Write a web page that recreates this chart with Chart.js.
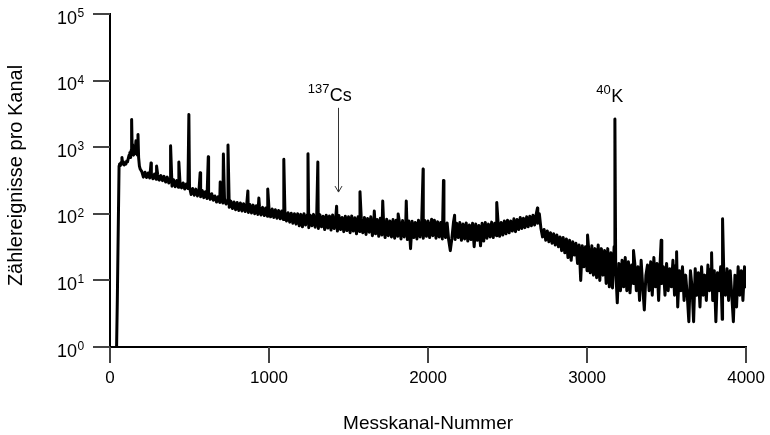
<!DOCTYPE html>
<html>
<head>
<meta charset="utf-8">
<script src="https://cdn.jsdelivr.net/npm/chart.js@4.4.0/dist/chart.umd.min.js"></script>
<style>
html,body{margin:0;padding:0;background:#fff;}
#wrap{width:770px;height:435px;position:relative;}
</style>
</head>
<body>
<div id="wrap"><canvas id="c" width="770" height="435"></canvas></div>
<script>
// ---------- data ----------
const xTickValues = [0, 1000, 2000, 3000, 4000];
const xTickLabels = ['0', '1000', '2000', '3000', '4000'];
const yTickValues = [1, 10, 100, 1000, 10000, 100000];
const yTickExponents = ['0', '1', '2', '3', '4', '5'];

// low-energy onset region (channel, counts)
const onsetChannels = [40, 46, 57, 60, 65, 70, 75, 80, 85, 90, 95, 100, 105, 110, 115, 120, 125, 130, 133, 136, 139, 142, 148, 152, 157, 163, 168, 172, 176, 180, 185];
const onsetCounts = [0.6, 5, 520, 560, 530, 590, 700, 560, 600, 540, 580, 560, 620, 600, 680, 760, 830, 700, 900, 2600, 1100, 850, 760, 1000, 800, 1250, 820, 760, 1550, 700, 520];

// continuum, every 10th channel from channel 190 to 4000
const gridStartChannel = 190;
const gridChannelStep = 10;
const gridCounts = [
  470, 430, 355, 420, 350, 410, 345, 400, 335, 395,
  330, 385, 320, 375, 315, 365, 300, 355, 290, 340,
  260, 325, 255, 315, 250, 300, 245, 290, 235, 280,
  240, 250, 195, 240, 190, 235, 185, 230, 180, 225,
  175, 215, 170, 210, 165, 200, 160, 185, 150, 180,
  148, 175, 145, 170, 140, 160, 125, 155, 120, 150,
  115, 148, 112, 145, 110, 142, 108, 140, 105, 138,
  103, 135, 100, 132, 98, 128, 96, 125, 94, 122,
  92, 120, 90, 118, 88, 115, 86, 112, 84, 110,
  82, 106, 78, 104, 75, 102, 72, 100, 70, 100,
  66, 98, 64, 100, 68, 96, 62, 95, 66, 98,
  63, 94, 60, 97, 64, 92, 58, 95, 61, 93,
  57, 96, 60, 90, 55, 94, 58, 88, 54, 92,
  56, 90, 52, 93, 55, 87, 50, 90, 54, 86,
  52, 88, 49, 85, 53, 90, 47, 84, 50, 82,
  46, 86, 48, 80, 44, 83, 47, 78, 45, 82,
  43, 80, 46, 76, 42, 79, 45, 75, 41, 78,
  30, 77, 44, 74, 42, 80, 45, 76, 43, 79,
  46, 78, 44, 75, 47, 80, 43, 76, 45, 74,
  42, 77, 44, 73, 40, 28, 43, 75, 41, 72,
  44, 74, 40, 70, 42, 73, 39, 68, 41, 72,
  32, 70, 40, 67, 33, 72, 39, 74, 43, 70,
  45, 75, 44, 72, 47, 77, 46, 74, 48, 78,
  50, 80, 52, 78, 55, 84, 54, 82, 58, 88,
  60, 86, 62, 90, 64, 92, 66, 95, 68, 98,
  72, 100, 60, 45, 58, 40, 55, 38, 52, 36,
  50, 34, 48, 32, 45, 28, 44, 26, 42, 22,
  40, 20, 38, 24, 36, 18, 34, 10, 33, 16,
  32, 14, 30, 13, 33, 12, 30, 11, 34, 10,
  30, 12, 28, 9, 30, 8, 26, 7.7, 32, 15,
  4.6, 18, 7, 20, 8, 22, 7, 19, 6.5, 17,
  9, 18, 7, 16, 5, 20, 8, 3.6, 12, 17,
  7, 19, 6, 22, 8, 18, 5, 20, 9, 16,
  6, 18, 7, 15, 8, 20, 6, 17, 4, 14,
  7, 16, 5, 12, 6, 2.4, 14, 8, 2.4, 15,
  6, 13, 4, 16, 6, 12, 5, 17, 7, 15,
  5, 14, 2.4, 13, 7, 16, 2.6, 12, 6, 15,
  5, 14, 6, 2.4, 12, 4, 16, 6, 14, 5,
  16, 8
];

// photo peaks (channel, counts at peak top)
const peakChannels = [258, 293, 381, 433, 496, 567, 618, 693, 713, 742, 867, 936, 992, 1093, 1245, 1307, 1425, 1572, 1662, 1715, 1812, 1863, 1969, 2022, 2097, 2167, 2432, 2688, 3003, 3175, 3292, 3466, 3563, 3783, 3852];
const peakCounts = [580, 520, 1050, 600, 3100, 415, 720, 300, 790, 1080, 220, 172, 235, 660, 800, 600, 130, 215, 110, 155, 99, 155, 470, 83, 315, 95, 148, 122, 48, 2640, 28, 40, 27, 26, 84];

// nuclide labels (anchored in data coordinates)
const nuclideLabels = [
  { mass: '137', symbol: 'Cs', channel: 1243, count: 4900, arrow: { channel: 1432, from: 3900, to: 212 } },
  { mass: '40', symbol: 'K', channel: 3058, count: 4770 }
];

// ---------- build points ----------
const points = [];
onsetChannels.forEach((c, i) => points.push({ x: c, y: onsetCounts[i] }));
gridCounts.forEach((v, i) => points.push({ x: gridStartChannel + i * gridChannelStep, y: v }));
peakChannels.forEach((c, i) => points.push({ x: c, y: peakCounts[i] }));
points.sort((a, b) => a.x - b.x);

const FONT = '"Liberation Sans", Arial, Helvetica, sans-serif';
Chart.defaults.font.family = FONT;
Chart.defaults.color = '#000';

const Y_TICK_LEN = 17;
const X_TICK_LEN = 16;

const overlay = {
  id: 'overlay',
  afterDraw(chart) {
    const { ctx, chartArea, scales: { x, y } } = chart;
    ctx.save();
    // tick marks
    ctx.fillStyle = '#444';
    yTickValues.forEach((v) => {
      const py = Math.round(y.getPixelForValue(v));
      ctx.fillRect(chartArea.left - Y_TICK_LEN, py - 1, Y_TICK_LEN, 2);
    });
    xTickValues.forEach((v) => {
      const px = Math.round(x.getPixelForValue(v));
      ctx.fillRect(px - 1, chartArea.bottom, 2, X_TICK_LEN);
    });

    ctx.fillStyle = '#000';
    // y tick labels with superscript exponents
    const labelRight = chartArea.left - 33;
    yTickValues.forEach((v, idx) => {
      const py = y.getPixelForValue(v);
      ctx.font = '18px ' + FONT;
      ctx.textAlign = 'right';
      ctx.textBaseline = 'alphabetic';
      ctx.fillText('10', labelRight, py + 9.5);
      ctx.font = '12px ' + FONT;
      ctx.textAlign = 'left';
      ctx.fillText(yTickExponents[idx], labelRight + 0.5, py + 3);
    });
    // y axis title
    ctx.save();
    ctx.translate(16, (chartArea.top + chartArea.bottom) / 2 - 5);
    ctx.rotate(-Math.PI / 2);
    ctx.font = '20px ' + FONT;
    ctx.textAlign = 'center';
    ctx.textBaseline = 'middle';
    ctx.fillText('Zählereignisse pro Kanal', 0, 0);
    ctx.restore();
    // nuclide labels
    nuclideLabels.forEach((n) => {
      const px = x.getPixelForValue(n.channel);
      const py = y.getPixelForValue(n.count);
      ctx.textAlign = 'left';
      ctx.textBaseline = 'alphabetic';
      ctx.font = '13px ' + FONT;
      ctx.fillText(n.mass, px, py - 8);
      const w = ctx.measureText(n.mass).width;
      ctx.font = '18px ' + FONT;
      ctx.fillText(n.symbol, px + w + 0.5, py);
      if (n.arrow) {
        const ax = Math.round(x.getPixelForValue(n.arrow.channel)) + 0.5;
        const y1 = y.getPixelForValue(n.arrow.from);
        const y2 = y.getPixelForValue(n.arrow.to);
        ctx.strokeStyle = '#333';
        ctx.lineWidth = 1;
        ctx.beginPath();
        ctx.moveTo(ax, y1);
        ctx.lineTo(ax, y2);
        ctx.moveTo(ax - 3.5, y2 - 6);
        ctx.lineTo(ax, y2);
        ctx.lineTo(ax + 3.5, y2 - 6);
        ctx.stroke();
      }
    });
    ctx.restore();
  }
};

new Chart(document.getElementById('c'), {
  type: 'line',
  data: {
    datasets: [{
      data: points,
      borderColor: '#000',
      borderWidth: 3,
      borderJoinStyle: 'round',
      borderCapStyle: 'round',
      pointRadius: 0,
      tension: 0,
      fill: false
    }]
  },
  options: {
    responsive: false,
    devicePixelRatio: 1,
    animation: false,
    events: [],
    layout: { padding: { top: 14, right: 23, left: 0, bottom: 0 } },
    plugins: { legend: { display: false }, tooltip: { enabled: false }, title: { display: false } },
    scales: {
      x: {
        type: 'linear',
        min: 0,
        max: 4000,
        afterFit: (s) => { s.height = 88; },
        afterBuildTicks: (s) => { s.ticks = xTickValues.map((v) => ({ value: v })); },
        ticks: {
          padding: 5,
          maxRotation: 0,
          font: { size: 17 },
          color: '#000',
          callback: (v, i) => xTickLabels[i]
        },
        grid: { drawOnChartArea: false, drawTicks: true, tickLength: X_TICK_LEN, tickColor: 'rgba(0,0,0,0)' },
        border: { display: true, color: '#000', width: 2 },
        title: { display: true, text: 'Messkanal-Nummer', font: { size: 19 }, color: '#000', padding: { top: 0, bottom: 0 } }
      },
      y: {
        type: 'logarithmic',
        min: 1,
        max: 100000,
        afterFit: (s) => { s.width = 110; },
        afterBuildTicks: (s) => { s.ticks = yTickValues.map((v) => ({ value: v })); },
        ticks: { display: false },
        grid: { drawOnChartArea: false, drawTicks: true, tickLength: Y_TICK_LEN, tickColor: 'rgba(0,0,0,0)' },
        border: { display: true, color: '#000', width: 2 }
      }
    }
  },
  plugins: [overlay]
});
</script>
</body>
</html>
